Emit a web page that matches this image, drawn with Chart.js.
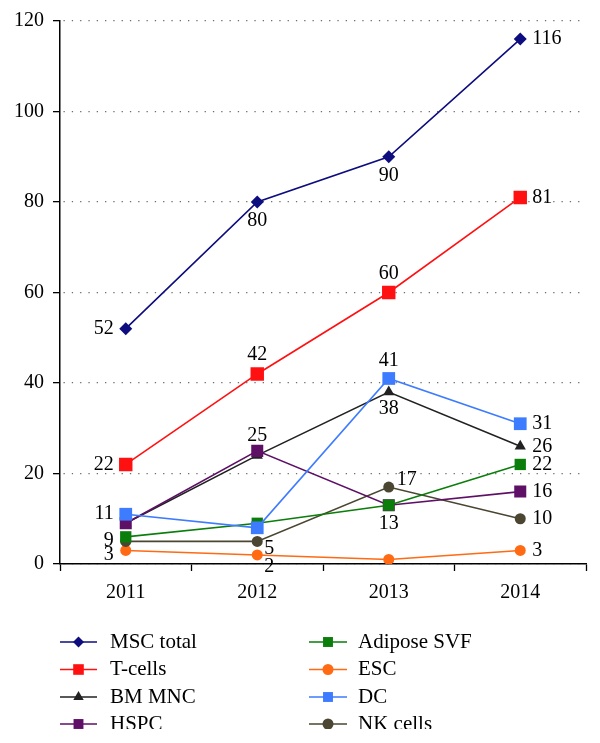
<!DOCTYPE html>
<html>
<head>
<meta charset="utf-8">
<script src="https://cdn.jsdelivr.net/npm/chart.js@4/dist/chart.umd.min.js"></script>
<style>
  html, body { margin: 0; padding: 0; background: #fff; }
  #c { display: block; }
</style>
</head>
<body>
<canvas id="c" width="600" height="743"></canvas>
<script>
// ---- Data ----
const years = ['2011', '2012', '2013', '2014'];
const seriesNames = ['MSC total', 'T-cells', 'BM MNC', 'HSPC', 'Adipose SVF', 'ESC', 'DC', 'NK cells'];
const mscTotal   = [52, 80, 90, 116];
const tCells     = [22, 42, 60, 81];
const bmMnc      = [9, 24, 38, 26];
const hspc       = [9, 25, 13, 16];
const adiposeSvf = [6, 9, 13, 22];
const esc        = [3, 2, 1, 3];
const dc         = [11, 8, 41, 31];
const nkCells    = [5, 5, 17, 10];
const yTicks     = [0, 20, 40, 60, 80, 100, 120];

// ---- Styles ----
const FONT = '"Liberation Serif", "DejaVu Serif", serif';
const styles = [
  { color: '#0d0d80', point: 'rectRot',  r: 6.5, lr: 5.5, order: 1 },
  { color: '#ff1111', point: 'rect',     r: 9.5, lr: 7.5, order: 2 },
  { color: '#222222', point: 'triangle', r: 6.5, lr: 6,   order: 6 },
  { color: '#5e0f66', point: 'rect',     r: 8.5, lr: 7,   order: 5 },
  { color: '#0a7d0a', point: 'rect',     r: 8,   lr: 7,   order: 4 },
  { color: '#ff6a13', point: 'circle',   r: 5.5, lr: 5.5, order: 8 },
  { color: '#3d7bff', point: 'rect',     r: 9,   lr: 7,   order: 3 },
  { color: '#4b4631', point: 'circle',   r: 5.5, lr: 5.5, order: 7 }
];
// label placement per series per year; null = no label
const L = {dx: -12, dy: 0, a: 'right'}, R = {dx: 12, dy: 0, a: 'left'},
      T = {dx: 0, dy: -19, a: 'center'}, B = {dx: 0, dy: 19, a: 'center'};
const labelPlacement = [
  [L, B, B, R],
  [L, T, T, R],
  [null, null, {dx: 0, dy: 17, a: 'center'}, R],
  [{dx: -12, dy: 17, a: 'right'}, {dx: 0, dy: -15, a: 'center'}, null, R],
  [null, null, B, R],
  [{dx: -12, dy: 4, a: 'right'}, {dx: 7, dy: 12, a: 'left'}, null, R],
  [L, null, {dx: 0, dy: -18, a: 'center'}, R],
  [null, {dx: 7, dy: 7, a: 'left'}, {dx: 8, dy: -7, a: 'left'}, R]
];

const allSeries = [mscTotal, tCells, bmMnc, hspc, adiposeSvf, esc, dc, nkCells];

const datasets = allSeries.map((vals, i) => ({
  label: seriesNames[i],
  data: vals,
  borderColor: styles[i].color,
  backgroundColor: styles[i].color,
  pointBackgroundColor: styles[i].color,
  pointBorderColor: styles[i].color,
  pointBorderWidth: 0,
  pointStyle: styles[i].point,
  pointRadius: styles[i].r,
  pointHoverRadius: styles[i].r,
  borderWidth: 1.6,
  tension: 0,
  fill: false,
  order: styles[i].order
}));

function drawMarker(ctx, style, r, x, y, color) {
  ctx.save();
  ctx.fillStyle = color;
  ctx.beginPath();
  if (style === 'circle') {
    ctx.arc(x, y, r, 0, Math.PI * 2);
  } else if (style === 'rect') {
    const s = r * Math.SQRT1_2;
    ctx.rect(x - s, y - s, 2 * s, 2 * s);
  } else if (style === 'rectRot') {
    ctx.moveTo(x, y - r); ctx.lineTo(x + r, y); ctx.lineTo(x, y + r); ctx.lineTo(x - r, y); ctx.closePath();
  } else if (style === 'triangle') {
    ctx.moveTo(x, y - r); ctx.lineTo(x + r * 0.866, y + r * 0.5); ctx.lineTo(x - r * 0.866, y + r * 0.5); ctx.closePath();
  }
  ctx.fill();
  ctx.restore();
}

const pointLabels = {
  id: 'pointLabels',
  afterDatasetsDraw(chart) {
    const ctx = chart.ctx;
    ctx.save();
    ctx.font = '20px ' + FONT;
    ctx.fillStyle = '#000';
    ctx.textBaseline = 'middle';
    chart.data.datasets.forEach((ds, i) => {
      const meta = chart.getDatasetMeta(i);
      meta.data.forEach((pt, j) => {
        const p = labelPlacement[i][j];
        if (!p) return;
        ctx.textAlign = p.a;
        ctx.fillText(String(ds.data[j]), pt.x + p.dx, pt.y + p.dy);
      });
    });
    ctx.restore();
  }
};

const customLegend = {
  id: 'customLegend',
  afterDraw(chart) {
    const ctx = chart.ctx;
    ctx.save();
    // the reference image is cropped just below the last legend row
    ctx.beginPath(); ctx.rect(0, 600, 600, 129); ctx.clip();
    ctx.font = '21px ' + FONT;
    ctx.textBaseline = 'middle';
    ctx.textAlign = 'left';
    const cols = [{x0: 60, x1: 97, tx: 110}, {x0: 309, x1: 347, tx: 358}];
    const rowY = [642, 669.5, 697, 724];
    chart.data.datasets.forEach((ds, i) => {
      const c = cols[Math.floor(i / 4)];
      const y = rowY[i % 4];
      ctx.strokeStyle = styles[i].color;
      ctx.lineWidth = 1.6;
      ctx.beginPath(); ctx.moveTo(c.x0, y); ctx.lineTo(c.x1, y); ctx.stroke();
      drawMarker(ctx, styles[i].point, styles[i].lr, (c.x0 + c.x1) / 2, y, styles[i].color);
      ctx.fillStyle = '#000';
      ctx.fillText(ds.label, c.tx, y);
    });
    ctx.restore();
  }
};

new Chart(document.getElementById('c'), {
  type: 'line',
  data: { labels: years, datasets },
  plugins: [pointLabels, customLegend],
  options: {
    responsive: false,
    animation: false,
    events: [],
    layout: { padding: { top: 21, right: 14, bottom: 0, left: 0 } },
    plugins: { legend: { display: false }, tooltip: { enabled: false } },
    scales: {
      x: {
        type: 'category',
        offset: true,
        afterFit(scale) { scale.height = 179; },
        grid: { display: true, drawOnChartArea: false, drawTicks: true, tickLength: 7, offset: true,
                tickColor: '#000', tickWidth: 1.3 },
        border: { display: true, color: '#000', width: 1.5 },
        ticks: { color: '#000', font: { family: FONT, size: 20 }, padding: 10, maxRotation: 0 }
      },
      y: {
        min: 0, max: 120,
        afterFit(scale) { scale.width = 60; },
        afterBuildTicks(scale) { scale.ticks = yTicks.map(v => ({ value: v })); },
        grid: { color: '#6e6e6e', lineWidth: 1.3, drawTicks: true, tickLength: 7,
                tickColor: '#000', tickWidth: 1.3, tickBorderDash: [] },
        border: { display: true, color: '#000', width: 1.5, dash: [1.3, 7], dashOffset: -3 },
        ticks: { color: '#000', font: { family: FONT, size: 20 }, padding: 9 }
      }
    }
  }
});
</script>
</body>
</html>
